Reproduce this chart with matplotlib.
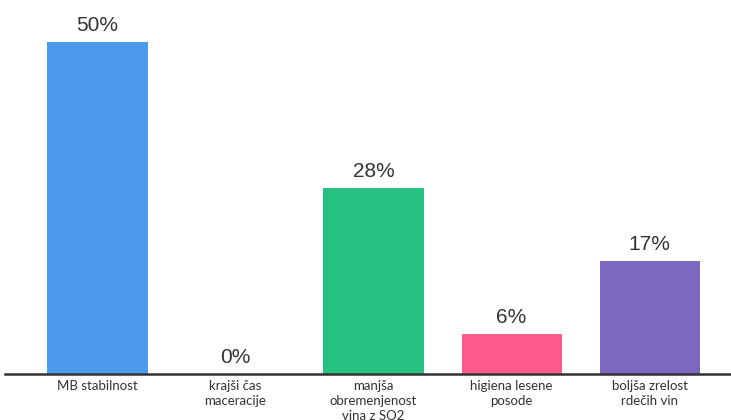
import matplotlib
matplotlib.use("Agg")
import matplotlib.pyplot as plt

categories = ["MB stabilnost", "krajši čas\nmaceracije", "manjša\nobremenjenost\nvina z SO2",
              "higiena lesene\nposode", "boljša zrelost\nrdečih vin"]
values = [50, 0, 28, 6, 17]
colors = ["#4C9BEF", "#4C9BEF", "#27C281", "#FF5A8C", "#7C69BF"]

fig = plt.figure(figsize=(7.31, 4.2), dpi=100)
ax = fig.add_axes([5/731, 46/420, 726/731, 374/420])
x = list(range(len(values)))
ax.bar(x, values, width=0.725, color=colors)
for xi, v in zip(x, values):
    ax.text(xi, v + 1.1, f"{v}%", ha="center", va="bottom", fontsize=15,
            color="#333333", family="Liberation Sans")
ax.set_xlim(-0.67, 4.59)
ax.set_ylim(0, 56.3)
ax.set_yticks([])
ax.set_xticks(x)
ax.set_xticklabels(categories, fontsize=9.5, color="#333333", family="Lato", linespacing=1.3)
ax.tick_params(axis="x", length=0, pad=4)
for s in ["top", "right", "left"]:
    ax.spines[s].set_visible(False)
ax.spines["bottom"].set_color("#333333")
ax.spines["bottom"].set_linewidth(1.8)
fig.savefig("out.png", dpi=100)
